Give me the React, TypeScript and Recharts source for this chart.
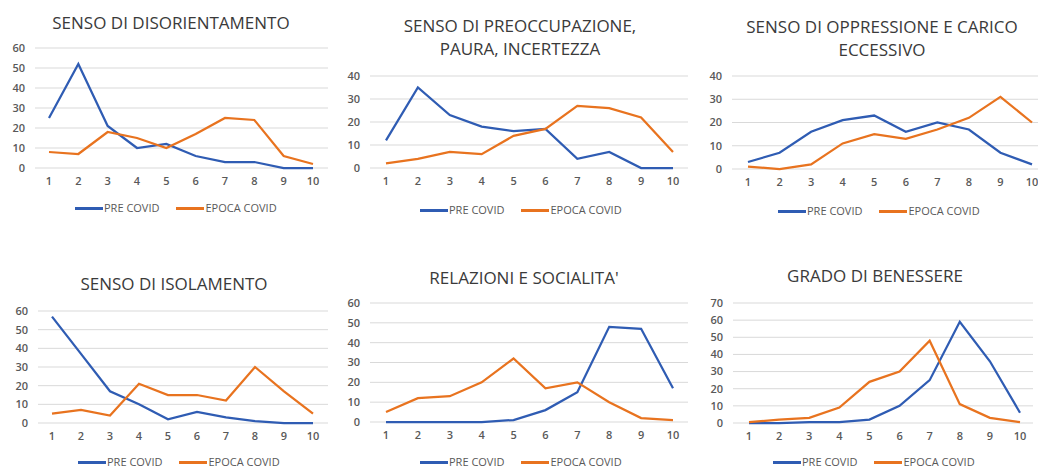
import React from 'react';
import { LineChart, Line, XAxis, YAxis, CartesianGrid, Legend } from 'recharts';

const categories = ['1', '2', '3', '4', '5', '6', '7', '8', '9', '10'];
const seriesNames = ['PRE COVID', 'EPOCA COVID'];

const preDisorientamento = [25, 52, 21, 10, 12, 6, 3, 3, 0, 0];
const epocaDisorientamento = [8, 7, 18, 15, 10, 17, 25, 24, 6, 2];

const prePreoccupazione = [12, 35, 23, 18, 16, 17, 4, 7, 0, 0];
const epocaPreoccupazione = [2, 4, 7, 6, 14, 17, 27, 26, 22, 7];

const preOppressione = [3, 7, 16, 21, 23, 16, 20, 17, 7, 2];
const epocaOppressione = [1, 0, 2, 11, 15, 13, 17, 22, 31, 20];

const preIsolamento = [57, 37, 17, 10, 2, 6, 3, 1, 0, 0];
const epocaIsolamento = [5, 7, 4, 21, 15, 15, 12, 30, 17, 5];

const preRelazioni = [0, 0, 0, 0, 1, 6, 15, 48, 47, 17];
const epocaRelazioni = [5, 12, 13, 20, 32, 17, 20, 10, 2, 1];

const preBenessere = [0, 0, 0.5, 0.5, 2, 10, 25, 59, 36, 6];
const epocaBenessere = [0.5, 2, 3, 9, 24, 30, 48, 11, 3, 0.5];

const yTicks40 = [0, 10, 20, 30, 40];
const yTicks60 = [0, 10, 20, 30, 40, 50, 60];
const yTicks70 = [0, 10, 20, 30, 40, 50, 60, 70];

const titleDisorientamento = ['SENSO DI DISORIENTAMENTO'];
const titlePreoccupazione = ['SENSO DI PREOCCUPAZIONE,', 'PAURA, INCERTEZZA'];
const titleOppressione = ['SENSO DI OPPRESSIONE E CARICO', 'ECCESSIVO'];
const titleIsolamento = ['SENSO DI ISOLAMENTO'];
const titleRelazioni = ["RELAZIONI E SOCIALITA'"];
const titleBenessere = ['GRADO DI BENESSERE'];

const BLUE = '#2F5CB3';
const ORANGE = '#E8731F';
const FONT = "'Open Sans', sans-serif";
const TICK_COLOR = '#595959';

type Panel = {
  title: string[];
  pre: number[];
  epoca: number[];
  ticks: number[];
  plot: [number, number, number, number];
  padL: number;
  padR: number;
  titleX: number;
  titleY: number;
  legendX: number;
  legendY: number;
};

const panels: Panel[] = [
  { title: titleDisorientamento, pre: preDisorientamento, epoca: epocaDisorientamento, ticks: yTicks60,
    plot: [35, 48, 328, 168], padL: 14, padR: 15, titleX: 171, titleY: 22, legendX: 75, legendY: 208 },
  { title: titlePreoccupazione, pre: prePreoccupazione, epoca: epocaPreoccupazione, ticks: yTicks40,
    plot: [370, 76, 688, 168], padL: 16, padR: 15, titleX: 520, titleY: 25, legendX: 420, legendY: 210 },
  { title: titleOppressione, pre: preOppressione, epoca: epocaOppressione, ticks: yTicks40,
    plot: [732, 76, 1047, 169], padL: 16, padR: 15, titleX: 882, titleY: 26, legendX: 778, legendY: 211 },
  { title: titleIsolamento, pre: preIsolamento, epoca: epocaIsolamento, ticks: yTicks60,
    plot: [38, 311, 328, 423], padL: 14, padR: 15, titleX: 174, titleY: 283, legendX: 78, legendY: 462 },
  { title: titleRelazioni, pre: preRelazioni, epoca: epocaRelazioni, ticks: yTicks60,
    plot: [370, 303, 688, 422], padL: 16, padR: 15, titleX: 524, titleY: 277, legendX: 420, legendY: 462 },
  { title: titleBenessere, pre: preBenessere, epoca: epocaBenessere, ticks: yTicks70,
    plot: [733, 303, 1033, 423], padL: 16, padR: 13, titleX: 875, titleY: 275, legendX: 773, legendY: 462 },
];

const renderLegend = (props: any) => {
  const payload = [...(props.payload || [])].sort(
    (a: any, b: any) => seriesNames.indexOf(a.value) - seriesNames.indexOf(b.value)
  );
  return (
    <div style={{ display: 'flex', alignItems: 'center', fontFamily: FONT, fontSize: 11, color: TICK_COLOR, whiteSpace: 'nowrap', lineHeight: '16px' }}>
      {payload.map((p: any, i: number) => (
        <div key={i} style={{ display: 'flex', alignItems: 'center', marginRight: i === 0 ? 17 : 0 }}>
          <span style={{ display: 'inline-block', width: 28, height: 3, background: p.color, marginRight: 1 }} />
          <span>{p.value}</span>
        </div>
      ))}
    </div>
  );
};

const Y_W = 40;
const M_TOP = 10;
const M_RIGHT = 5;
const X_H = 30;

const PanelChart = ({ cfg }: { cfg: Panel }) => {
  const [x0, y0, x1, y1] = cfg.plot;
  const left = x0 - Y_W;
  const top = y0 - M_TOP;
  const width = x1 + M_RIGHT - left;
  const height = y1 + X_H - top;
  const data = categories.map((c, i) => ({ cat: c, pre: cfg.pre[i], epoca: cfg.epoca[i] }));
  const yMax = cfg.ticks[cfg.ticks.length - 1];
  const tickStyle = { fontSize: 11, fill: TICK_COLOR, fontFamily: FONT, fontWeight: 600 };
  return (
    <>
      <div style={{ position: 'absolute', left: cfg.titleX - 200, top: cfg.titleY - 11.5, width: 400, textAlign: 'center', fontFamily: FONT, fontSize: 17, lineHeight: '23px', color: '#3A3A3A' }}>
        {cfg.title.map((t, i) => (<div key={i}>{t}</div>))}
      </div>
      <div style={{ position: 'absolute', left, top }}>
        <LineChart width={width} height={height} data={data} margin={{ top: M_TOP, right: M_RIGHT, bottom: 0, left: 0 }}>
          <CartesianGrid horizontal={true} vertical={false} stroke="#D9D9D9" strokeWidth={1} />
          <XAxis dataKey="cat" height={X_H} axisLine={false} tickLine={false} tickSize={7} tickMargin={2}
            interval={0} padding={{ left: cfg.padL, right: cfg.padR }} tick={tickStyle} />
          <YAxis width={Y_W} domain={[0, yMax]} ticks={cfg.ticks} axisLine={false} tickLine={false} tickSize={8} tickMargin={2}
            interval={0} tick={tickStyle} />
          <Line type="linear" dataKey="pre" name={seriesNames[0]} stroke={BLUE} strokeWidth={2.25} dot={false} activeDot={false} isAnimationActive={false} />
          <Line type="linear" dataKey="epoca" name={seriesNames[1]} stroke={ORANGE} strokeWidth={2.25} dot={false} activeDot={false} isAnimationActive={false} />
          <Legend layout="horizontal" verticalAlign="middle" align="center" content={renderLegend}
            wrapperStyle={{ left: cfg.legendX - left, top: cfg.legendY - 8 - top, width: 'auto', height: 'auto' }} />
        </LineChart>
      </div>
    </>
  );
};

export default function App() {
  return (
    <div style={{ position: 'absolute', left: 0, top: 0, width: 1038, height: 468, overflow: 'hidden', background: '#FFFFFF' }}>
      {panels.map((p, i) => (<PanelChart key={i} cfg={p} />))}
    </div>
  );
}
